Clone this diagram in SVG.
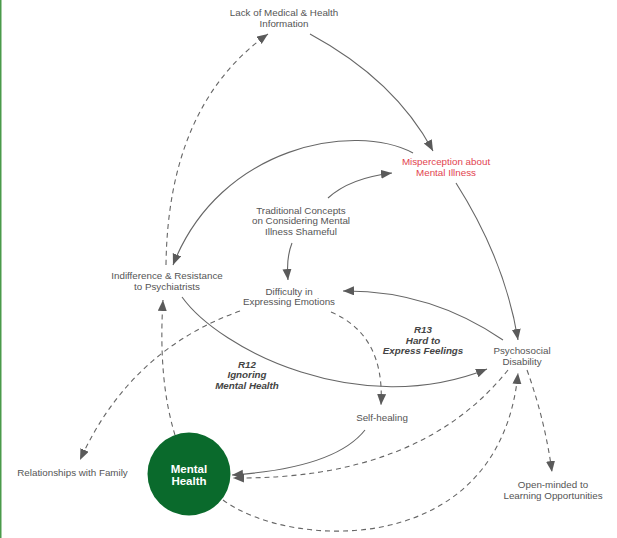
<svg xmlns="http://www.w3.org/2000/svg" width="617" height="538" viewBox="0 0 617 538">
<style>
text{font-family:"Liberation Sans",Arial,sans-serif;font-size:9.8px;fill:#555;text-anchor:middle}
.red{fill:#e2444f}
.loop{font-weight:bold;font-style:italic;fill:#444}
.mh{fill:#fff;font-weight:bold;font-size:11.5px}
.s{fill:none;stroke:#666;stroke-width:1.1}
.d{fill:none;stroke:#666;stroke-width:1.1;stroke-dasharray:5 4}
</style>
<defs>
<marker id="a" markerUnits="userSpaceOnUse" markerWidth="12" markerHeight="10" refX="11" refY="4.5" orient="auto">
<path d="M0,0 L11,4.5 L0,9 z" fill="#5a5a5a"/>
</marker>
</defs>
<rect width="617" height="538" fill="#fff"/>
<rect x="0" y="0" width="1.5" height="538" fill="#4a9a4a"/>
<g id="connectors">
<path class="s" d="M310,34 Q395,80 433,151" marker-end="url(#a)"/>
<path class="s" d="M413,153 C355,122 220,145 173,265" marker-end="url(#a)"/>
<path class="s" d="M328,198 Q350,178 392,173" marker-end="url(#a)"/>
<path class="s" d="M292,243 Q286,258 288,280" marker-end="url(#a)"/>
<path class="s" d="M456,183 Q505,260 518,340" marker-end="url(#a)"/>
<path class="s" d="M503,340 Q430,290 343,291" marker-end="url(#a)"/>
<path class="s" d="M182,297 C220,350 360,420 487,369" marker-end="url(#a)"/>
<path class="d" d="M166,265 Q168,105 268,34" marker-end="url(#a)"/>
<path class="d" d="M175,435 Q158,380 163,300" marker-end="url(#a)"/>
<path class="d" d="M240,311 Q130,350 80,460" marker-end="url(#a)"/>
<path class="d" d="M331,312 Q385,335 381,405" marker-end="url(#a)"/>
<path class="s" d="M365,430 Q335,468 232,475" marker-end="url(#a)"/>
<path class="d" d="M508,370 Q420,480 233,478" marker-end="url(#a)"/>
<path class="d" d="M223,500 C290,550 500,560 518,373" marker-end="url(#a)"/>
<path class="d" d="M527,370 Q545,420 552,472" marker-end="url(#a)"/>
</g>
<g id="lack"><text x="284" y="16">Lack of Medical &amp; Health</text><text x="284" y="27">Information</text></g>
<g id="misperception"><text class="red" x="446" y="165">Misperception about</text><text class="red" x="446" y="176">Mental Illness</text></g>
<g id="traditional"><text x="301" y="213.5">Traditional Concepts</text><text x="301" y="224">on Considering Mental</text><text x="301" y="234.5">Illness Shameful</text></g>
<g id="indifference"><text x="167" y="279">Indifference &amp; Resistance</text><text x="167" y="289.5">to Psychiatrists</text></g>
<g id="difficulty"><text x="289" y="294.5">Difficulty in</text><text x="289" y="305">Expressing Emotions</text></g>
<g id="r13"><text class="loop" x="423" y="333">R13</text><text class="loop" x="423" y="343.5">Hard to</text><text class="loop" x="423" y="354">Express Feelings</text></g>
<g id="psychosocial"><text x="522" y="354">Psychosocial</text><text x="522" y="364.5">Disability</text></g>
<g id="r12"><text class="loop" x="247" y="367.5">R12</text><text class="loop" x="247" y="378">Ignoring</text><text class="loop" x="247" y="388.5">Mental Health</text></g>
<g id="selfhealing"><text x="382" y="420.5">Self-healing</text></g>
<g id="relationships"><text x="72.5" y="475.5">Relationships with Family</text></g>
<g id="mentalhealth"><circle cx="189" cy="474" r="41.5" fill="#0a6a2c"/><text class="mh" x="189" y="472.5">Mental</text><text class="mh" x="189" y="484.5">Health</text></g>
<g id="openminded"><text x="553" y="488">Open-minded to</text><text x="553" y="498.5">Learning Opportunities</text></g>
</svg>
